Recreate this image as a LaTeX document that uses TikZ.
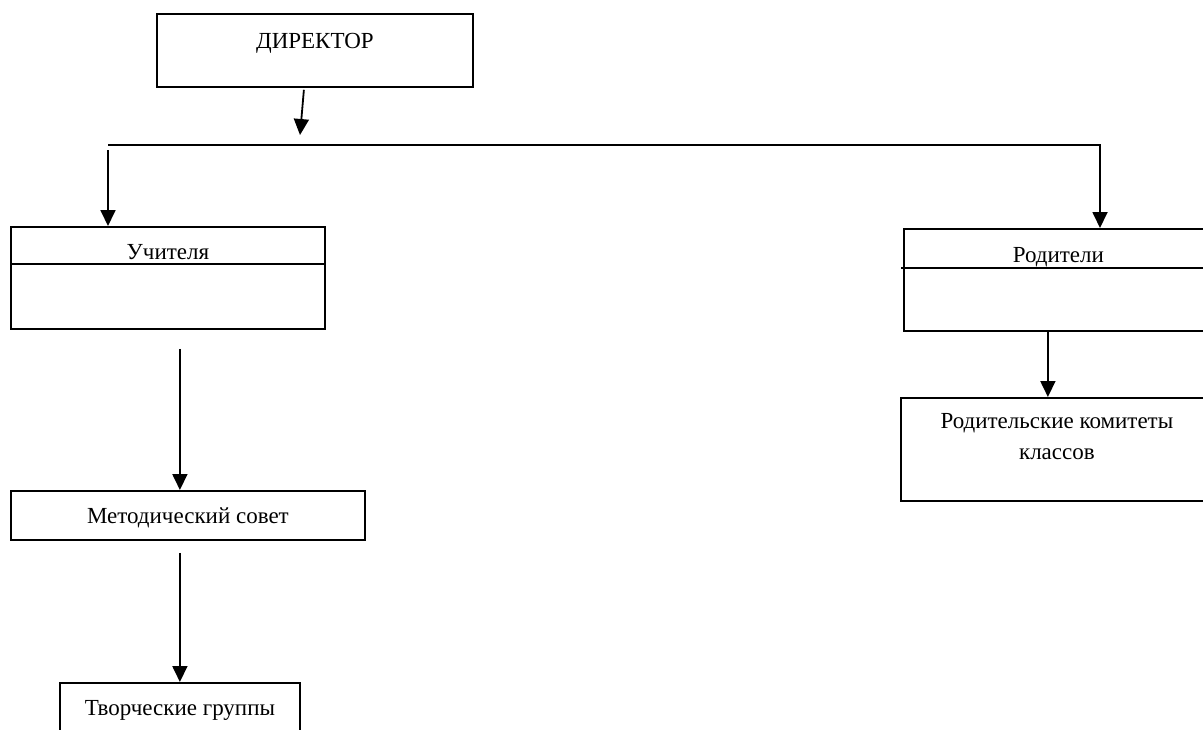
\documentclass[tikz,border=0pt]{standalone}
\usepackage{fontspec}
\setmainfont{Liberation Serif}
\usetikzlibrary{arrows.meta}

\begin{document}
\begin{tikzpicture}[x=1pt,y=-1pt,line width=1.8pt,>={Triangle[width=15pt,length=16pt]},
  box/.style={draw,line width=1.8pt,anchor=north west,inner sep=0pt,align=center,font=\fontsize{23}{31}\selectfont}]
\useasboundingbox (0,0) rectangle (1203,729);
\clip (0,0) rectangle (1203,729);
\node[box,minimum width=316,text height=35pt,text depth=38pt] (dir) at (156,13) {ДИРЕКТОР};
\node[box,minimum width=314,text height=33pt,text depth=69pt] (uch) at (10,226) {Учителя};
\node[box,minimum width=309,text height=34pt,text depth=68pt] (rod) at (903,228) {Родители};
\node[box,minimum width=354,text height=33pt,text depth=16pt] (met) at (10,490) {Методический совет};
\node[box,minimum width=240,text height=33pt,text depth=40pt] (tvor) at (59,682) {Творческие группы};
\node[box,minimum width=312,text height=62pt,text depth=41pt] (kom) at (900,397) {Родительские комитеты\\классов};
\draw ([yshift=-38pt]uch.north west) -- ([yshift=-38pt]uch.north east);
\draw ([xshift=-2pt,yshift=-40pt]rod.north west) -- ([yshift=-40pt]rod.north east);
\coordinate (busL) at (108,145);
\coordinate (busR) at (1100,145);
\coordinate (busA) at (300,135);
\draw[->] ([xshift=-11pt,yshift=-2pt]dir.south) -- (busA);
\draw[->] (busL) -- (busR) -- (busR |- rod.north);
\draw[->,shorten <=5pt] (busL) -- (busL |- uch.north);
\draw[->,shorten <=19pt] ([xshift=12pt]uch.south) -- ([xshift=-8pt]met.north);
\draw[->,shorten <=12pt] ([xshift=-8pt]met.south) -- (tvor.north);
\draw[->] ([xshift=-10.5pt]rod.south) -- ([xshift=-9pt]kom.north);
\end{tikzpicture}
\end{document}
